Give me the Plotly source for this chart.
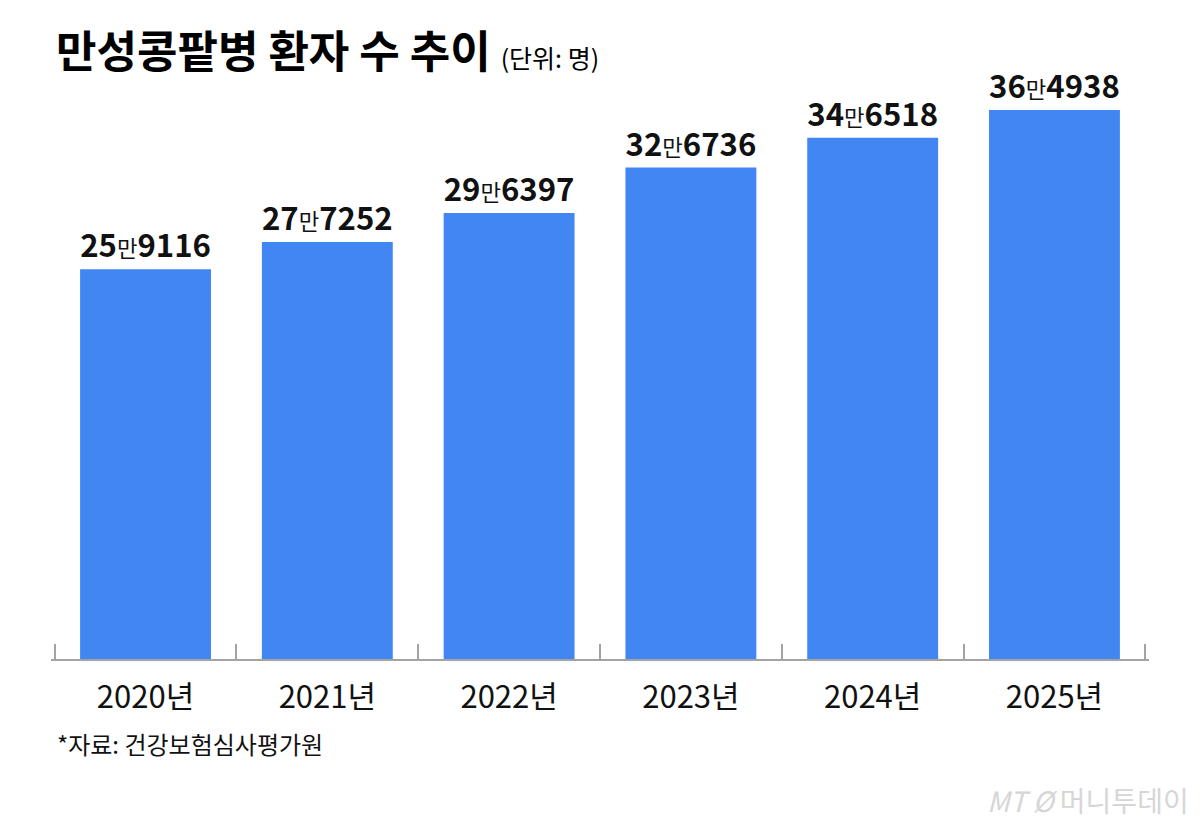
import plotly.graph_objects as go

years = ['2020년', '2021년', '2022년', '2023년', '2024년', '2025년']
patients = [259116, 277252, 296397, 326736, 346518, 364938]

title_text = '만성콩팥병 환자 수 추이'
unit_text = '(단위: 명)'
source_text = '*자료: 건강보험심사평가원'

BAR_COLOR = '#4286f4'
AXIS_COLOR = '#a3a3a3'
FONT = 'Liberation Sans Narrow, Arial Narrow, Noto Sans CJK KR, sans-serif'
KR_FONT = 'Noto Sans CJK KR, sans-serif'
# a bit of slack so the end ticks are not clipped
X_RANGE = [-0.52, len(years) - 0.48]


def man_label(v):
    # 25만9116 style: bold numbers with a small 만
    return (f"<b>{v // 10000}</b>"
            f"<span style='font-size:25px'>만</span>"
            f"<b>{v % 10000}</b>")


fig = go.Figure()
fig.add_bar(x=years, y=patients,
            marker_color=BAR_COLOR,
            marker_line_width=0,
            text=[man_label(v) for v in patients],
            textposition='outside',
            textfont=dict(family=FONT, size=35, color='#111111'),
            cliponaxis=False,
            hoverinfo='skip')
# empty trace so the tick-only overlay axis gets drawn
fig.add_scatter(x=[None], y=[None], xaxis='x2', mode='markers',
                showlegend=False, hoverinfo='skip')

fig.update_layout(
    xaxis=dict(range=X_RANGE,
               showline=True, linecolor=AXIS_COLOR, linewidth=2,
               ticks='', ticklabelstandoff=10,
               tickfont=dict(family=FONT, size=31, color='#111111'),
               showgrid=False, zeroline=False),
    # second axis only for the boundary tick marks, incl. both ends
    xaxis2=dict(overlaying='x', anchor='y', side='bottom', range=X_RANGE,
                tickmode='array', tickvals=[i - 0.5 for i in range(len(years) + 1)],
                showticklabels=False, ticks='inside', ticklen=15,
                tickwidth=1.5, tickcolor=AXIS_COLOR,
                showline=False, showgrid=False, zeroline=False),
    yaxis=dict(range=[0, max(patients) * 559 / 549],
               visible=False, showgrid=False, zeroline=False),
)

fig.update_layout(
    width=1200, height=823,
    bargap=0.28,
    showlegend=False,
    plot_bgcolor='white',
    paper_bgcolor='white',
    margin=dict(l=51, r=51, t=100, b=164),
    title=dict(text=f"<b>{title_text}</b> <span style='font-size:25px'>{unit_text}</span>",
               x=56 / 1200, xanchor='left',
               y=1 - 53 / 823, yanchor='middle',
               font=dict(family=KR_FONT, size=44, color='#000000')),
    annotations=[
        dict(text=source_text, xref='paper', yref='paper',
             x=0.004, y=-0.152, xanchor='left', yanchor='middle',
             showarrow=False,
             font=dict(family=KR_FONT, size=24, color='#111111')),
        dict(text="<i>MT</i> <i>Ø</i> 머니투데이", xref='paper', yref='paper',
             x=1.0385, y=-0.252, xanchor='right', yanchor='middle',
             showarrow=False,
             font=dict(family=KR_FONT, size=28, color='#d6d6d6')),
    ],
)

fig.write_html('out.html', config={'displayModeBar': False},
               post_script="document.body.style.margin='0';")
